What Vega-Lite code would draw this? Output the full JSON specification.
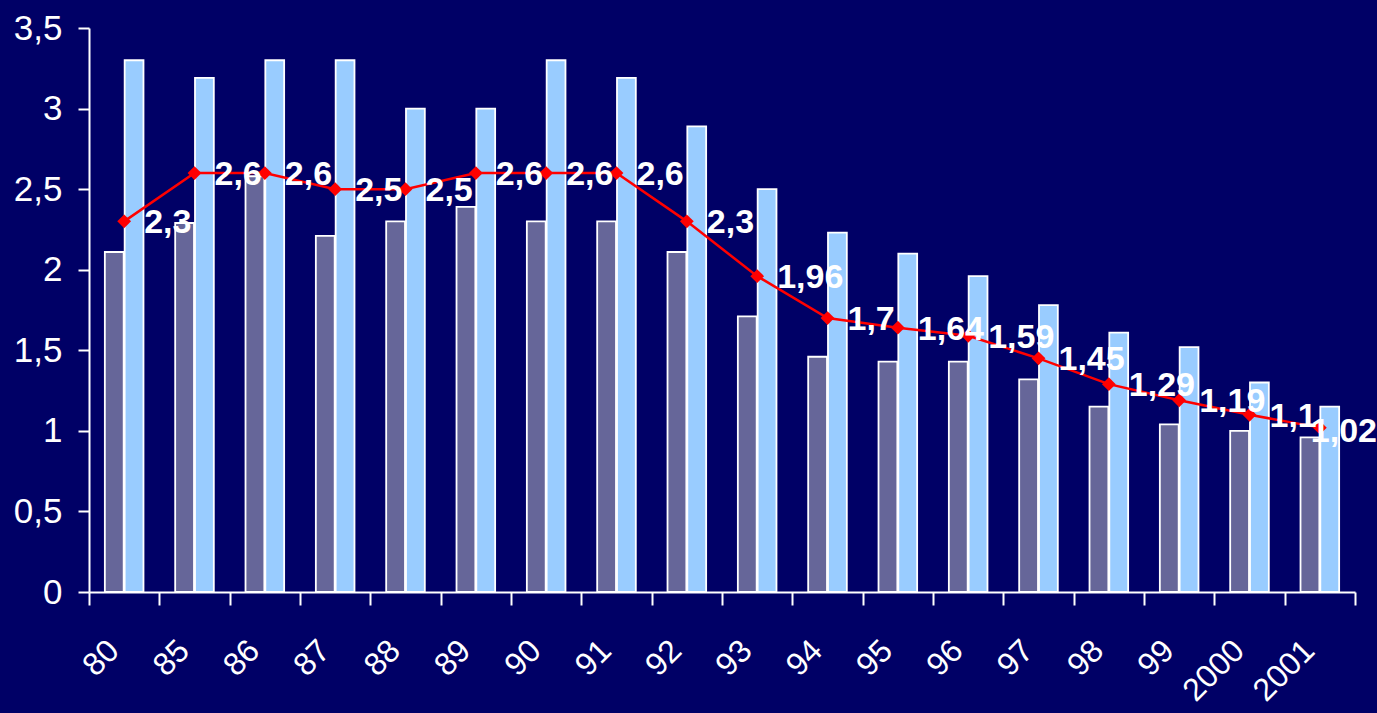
{
  "$schema": "https://vega.github.io/schema/vega-lite/v6.json",
  "width": 1266,
  "height": 564,
  "autosize": {"type": "none"},
  "padding": {"left": 89, "top": 28, "right": 22, "bottom": 121},
  "background": "#000066",
  "config": {
    "view": {"stroke": null},
    "font": "Liberation Sans",
    "locale": {
      "number": {"decimal": ",", "thousands": ".", "grouping": [3], "currency": ["", " €"]}
    }
  },
  "datasets": {
    "bars": [
      {"year": "80", "series": "A", "value": 2.11},
      {"year": "80", "series": "B", "value": 3.3},
      {"year": "85", "series": "A", "value": 2.29},
      {"year": "85", "series": "B", "value": 3.19},
      {"year": "86", "series": "A", "value": 2.58},
      {"year": "86", "series": "B", "value": 3.3},
      {"year": "87", "series": "A", "value": 2.21},
      {"year": "87", "series": "B", "value": 3.3},
      {"year": "88", "series": "A", "value": 2.3},
      {"year": "88", "series": "B", "value": 3.0},
      {"year": "89", "series": "A", "value": 2.39},
      {"year": "89", "series": "B", "value": 3.0},
      {"year": "90", "series": "A", "value": 2.3},
      {"year": "90", "series": "B", "value": 3.3},
      {"year": "91", "series": "A", "value": 2.3},
      {"year": "91", "series": "B", "value": 3.19},
      {"year": "92", "series": "A", "value": 2.11},
      {"year": "92", "series": "B", "value": 2.89},
      {"year": "93", "series": "A", "value": 1.71},
      {"year": "93", "series": "B", "value": 2.5},
      {"year": "94", "series": "A", "value": 1.46},
      {"year": "94", "series": "B", "value": 2.23},
      {"year": "95", "series": "A", "value": 1.43},
      {"year": "95", "series": "B", "value": 2.1},
      {"year": "96", "series": "A", "value": 1.43},
      {"year": "96", "series": "B", "value": 1.96},
      {"year": "97", "series": "A", "value": 1.32},
      {"year": "97", "series": "B", "value": 1.78},
      {"year": "98", "series": "A", "value": 1.15},
      {"year": "98", "series": "B", "value": 1.61},
      {"year": "99", "series": "A", "value": 1.04},
      {"year": "99", "series": "B", "value": 1.52},
      {"year": "2000", "series": "A", "value": 1.0},
      {"year": "2000", "series": "B", "value": 1.3},
      {"year": "2001", "series": "A", "value": 0.96},
      {"year": "2001", "series": "B", "value": 1.15}
    ],
    "rate": [
      {"year": "80", "rate": 2.3},
      {"year": "85", "rate": 2.6},
      {"year": "86", "rate": 2.6},
      {"year": "87", "rate": 2.5},
      {"year": "88", "rate": 2.5},
      {"year": "89", "rate": 2.6},
      {"year": "90", "rate": 2.6},
      {"year": "91", "rate": 2.6},
      {"year": "92", "rate": 2.3},
      {"year": "93", "rate": 1.96},
      {"year": "94", "rate": 1.7},
      {"year": "95", "rate": 1.64},
      {"year": "96", "rate": 1.59},
      {"year": "97", "rate": 1.45},
      {"year": "98", "rate": 1.29},
      {"year": "99", "rate": 1.19},
      {"year": "2000", "rate": 1.1},
      {"year": "2001", "rate": 1.02}
    ]
  },
  "encoding": {
    "x": {
      "field": "year",
      "type": "nominal",
      "sort": ["80", "85", "86", "87", "88", "89", "90", "91", "92", "93", "94", "95", "96", "97", "98", "99", "2000", "2001"],
      "scale": {"paddingInner": 0, "paddingOuter": 0},
      "axis": {
        "title": null,
        "grid": false,
        "domainColor": "#ffffff",
        "domainWidth": 2,
        "tickColor": "#ffffff",
        "tickWidth": 2,
        "tickSize": 13,
        "tickBand": "extent",
        "labelColor": "#ffffff",
        "labelFontSize": 32,
        "labelAngle": -45,
        "labelAlign": "right",
        "labelBaseline": "middle",
        "labelOffset": -11,
        "labelPadding": 40,
        "labelOverlap": false,
        "labelBound": false
      }
    },
    "y": {
      "type": "quantitative",
      "scale": {"domain": [0, 3.5], "nice": false, "zero": true},
      "axis": {
        "title": null,
        "grid": false,
        "values": [0, 0.5, 1, 1.5, 2, 2.5, 3, 3.5],
        "format": ".1~f",
        "domainColor": "#ffffff",
        "domainWidth": 2,
        "tickColor": "#ffffff",
        "tickWidth": 2,
        "tickSize": 11,
        "labelColor": "#ffffff",
        "labelFontSize": 35,
        "labelPadding": 16,
        "labelFlush": false,
        "labelBound": false
      }
    }
  },
  "layer": [
    {
      "data": {"name": "bars"},
      "mark": {"type": "bar", "stroke": "#ffffff", "strokeWidth": 1.8},
      "encoding": {
        "y": {"field": "value", "type": "quantitative"},
        "xOffset": {"field": "series", "type": "nominal", "scale": {"paddingInner": 0.05, "paddingOuter": 0.8}},
        "color": {"field": "series", "type": "nominal", "scale": {"domain": ["A", "B"], "range": ["#666699", "#99ccff"]}, "legend": null}
      }
    },
    {
      "data": {"name": "rate"},
      "mark": {"type": "line", "color": "#ff0000", "strokeWidth": 2.5},
      "encoding": {"y": {"field": "rate", "type": "quantitative"}}
    },
    {
      "data": {"name": "rate"},
      "mark": {"type": "point", "shape": "diamond", "filled": true, "color": "#ff0000", "opacity": 1, "size": 190},
      "encoding": {"y": {"field": "rate", "type": "quantitative"}}
    },
    {
      "data": {"name": "rate"},
      "transform": [{"filter": "datum.year !== '2001'"}],
      "mark": {"type": "text", "align": "left", "baseline": "middle", "dx": 20, "dy": 2, "fontSize": 34, "fontWeight": "bold", "color": "#ffffff"},
      "encoding": {
        "y": {"field": "rate", "type": "quantitative"},
        "text": {"field": "rate", "type": "quantitative", "format": ".3~r"}
      }
    },
    {
      "data": {"name": "rate"},
      "transform": [{"filter": "datum.year === '2001'"}],
      "mark": {"type": "text", "align": "left", "baseline": "middle", "dx": -9, "dy": 4, "fontSize": 34, "fontWeight": "bold", "color": "#ffffff"},
      "encoding": {
        "y": {"field": "rate", "type": "quantitative"},
        "text": {"field": "rate", "type": "quantitative", "format": ".3~r"}
      }
    }
  ]
}
